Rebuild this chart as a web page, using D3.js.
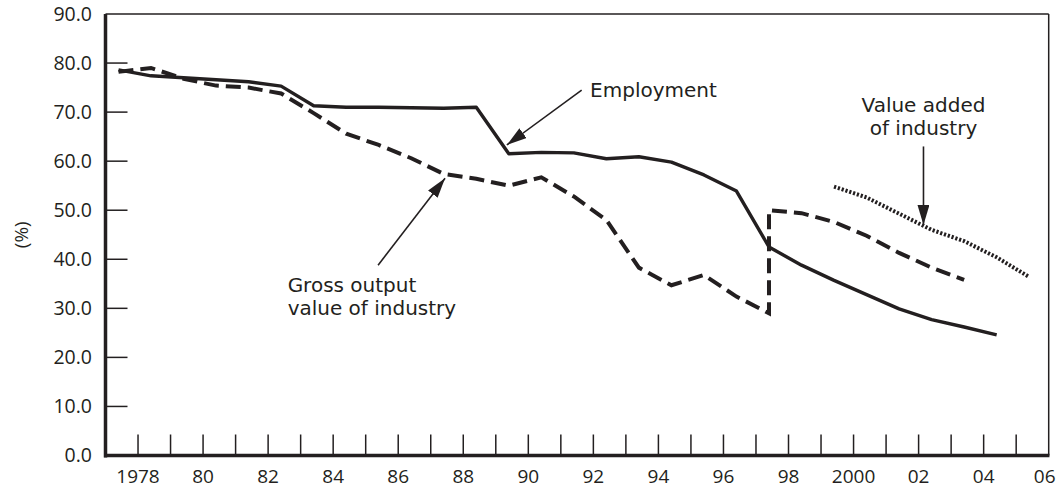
<!DOCTYPE html>
<html>
<head>
<meta charset="utf-8">
<script src="https://cdn.jsdelivr.net/npm/d3@7"></script>
<style>
  body { margin: 0; background: #fff; }
  svg text { font-family: "Open Sans", "Noto Sans", sans-serif; fill: #231f20; }
  svg text.note { font-family: "DejaVu Sans", "Open Sans", sans-serif; }
</style>
</head>
<body>
<svg id="chart" width="1060" height="489"></svg>
<script>
// values, in percent
var employmentYears = d3.range(1977, 2005);
var employment = [78.6, 77.4, 77.0, 76.6, 76.2, 75.3, 71.3, 71.0, 71.0, 70.9, 70.8, 71.0, 61.5, 61.8,
  61.7, 60.5, 60.9, 59.8, 57.2, 53.9, 42.5, 38.8, 35.7, 32.8, 29.9, 27.7, 26.2, 24.6];

var grossOldYears = d3.range(1977, 1998);
var grossOld = [78.2, 79.0, 76.8, 75.4, 75.0, 73.8, 69.8, 65.6, 63.3, 60.6, 57.4, 56.4, 55.0, 56.7,
  52.8, 48.0, 38.3, 34.7, 36.8, 32.4, 29.0];
var grossNewYears = d3.range(1997, 2004);
var grossNew = [50.0, 49.4, 47.6, 44.8, 41.3, 38.3, 35.8];

var valueAddedYears = d3.range(1999, 2006);
var valueAdded = [54.8, 52.6, 49.3, 46.0, 43.7, 40.4, 36.4];

var yTicks = [10, 20, 30, 40, 50, 60, 70, 80];
var yLabels = [0, 10, 20, 30, 40, 50, 60, 70, 80, 90];
var xTickYears = d3.range(1978, 2006);
var xLabelYears = d3.range(1978, 2007, 2);

var svg = d3.select('#chart');
var ink = '#231f20';
var x = d3.scaleLinear().domain([1977, 2006]).range([105.5, 1048.7]);
var y = d3.scaleLinear().domain([0, 90]).range([455.5, 14]);
var pointShift = 0.4; // points sit a bit right of the year tick

function yearLabel(yr) {
  if (yr === 1978 || yr === 2000) return String(yr);
  return String(yr).slice(2);
}

// frame
svg.append('line').attr('x1', x(1977)).attr('x2', x(2006)).attr('y1', y(90)).attr('y2', y(90))
  .attr('stroke', ink).attr('stroke-width', 1.5);
svg.append('line').attr('x1', x(2006)).attr('x2', x(2006)).attr('y1', y(90)).attr('y2', y(0))
  .attr('stroke', ink).attr('stroke-width', 1.5);

// y axis ticks point inward
svg.selectAll('.ytick').data(yTicks).enter().append('line')
  .attr('class', 'ytick')
  .attr('x1', x(1977)).attr('x2', x(1977) + 22)
  .attr('y1', function (d) { return y(d); }).attr('y2', function (d) { return y(d); })
  .attr('stroke', ink).attr('stroke-width', 1.5);
svg.selectAll('.ylab').data(yLabels).enter().append('text')
  .attr('class', 'ylab')
  .attr('x', 92).attr('y', function (d) { return y(d); })
  .attr('dy', '0.35em').attr('text-anchor', 'end')
  .style('font-size', '19.5px')
  .text(function (d) { return d.toFixed(1); });

// x axis ticks point up
svg.selectAll('.xtick').data(xTickYears).enter().append('line')
  .attr('class', 'xtick')
  .attr('x1', function (d) { return x(d); }).attr('x2', function (d) { return x(d); })
  .attr('y1', y(0)).attr('y2', y(0) - 21)
  .attr('stroke', ink).attr('stroke-width', 1.5);
svg.selectAll('.xlab').data(xLabelYears).enter().append('text')
  .attr('class', 'xlab')
  .attr('x', function (d) { return d === 2006 ? x(d) - 4 : x(d); }).attr('y', 482.5)
  .attr('text-anchor', 'middle')
  .style('font-size', '19px')
  .text(yearLabel);

// main axes, heavier
svg.append('line').attr('x1', x(1977)).attr('x2', x(1977)).attr('y1', y(90)).attr('y2', y(0) + 2)
  .attr('stroke', ink).attr('stroke-width', 3.5);
svg.append('line').attr('x1', x(1977) - 1.5).attr('x2', x(2006) + 0.75).attr('y1', y(0)).attr('y2', y(0))
  .attr('stroke', ink).attr('stroke-width', 3.5);

svg.append('text')
  .attr('transform', 'translate(28,' + y(45) + ') rotate(-90)')
  .attr('text-anchor', 'middle')
  .style('font-size', '19px')
  .text('(%)');

// series
var line = d3.line()
  .x(function (d) { return x(d.year + pointShift); })
  .y(function (d) { return y(d.value); });

function pairs(years, values) {
  return years.map(function (yr, i) { return {year: yr, value: values[i]}; });
}

svg.append('path')
  .datum(pairs(employmentYears, employment))
  .attr('d', line).attr('fill', 'none')
  .attr('stroke', ink).attr('stroke-width', 3.4).attr('stroke-linejoin', 'round');

svg.append('path')
  .datum(pairs(grossOldYears, grossOld).concat(pairs(grossNewYears, grossNew)))
  .attr('d', line).attr('fill', 'none')
  .attr('stroke', ink).attr('stroke-width', 4).attr('stroke-dasharray', '15,7');

svg.append('path')
  .datum(pairs(valueAddedYears, valueAdded))
  .attr('d', line).attr('fill', 'none')
  .attr('stroke', ink).attr('stroke-width', 4).attr('stroke-dasharray', '2.2,1.8');

// annotations, placed in data space
svg.append('defs').append('marker')
  .attr('id', 'head').attr('viewBox', '0 0 20 12')
  .attr('refX', 20).attr('refY', 6)
  .attr('markerWidth', 20).attr('markerHeight', 12)
  .attr('markerUnits', 'userSpaceOnUse').attr('orient', 'auto')
  .append('path').attr('d', 'M0,0L20,6L0,12Z').attr('fill', ink);

var arrows = [
  {from: [1991.64, 74.5], to: [1989.34, 63.3]},
  {from: [2002.15, 63.0], to: [2002.15, 47.0]},
  {from: [1985.38, 38.8], to: [1987.44, 56.5]}
];
svg.selectAll('.arrow').data(arrows).enter().append('line')
  .attr('class', 'arrow')
  .attr('x1', function (d) { return x(d.from[0]); }).attr('y1', function (d) { return y(d.from[1]); })
  .attr('x2', function (d) { return x(d.to[0]); }).attr('y2', function (d) { return y(d.to[1]); })
  .attr('stroke', ink).attr('stroke-width', 1.6)
  .attr('marker-end', 'url(#head)');

// each note is one text, lines as tspans
var notes = [
  {at: [1991.9, 73.1], anchor: 'start', lines: ['Employment']},
  {at: [2002.15, 70.1], anchor: 'middle', lines: ['Value added', 'of industry']},
  {at: [1982.6, 33.4], anchor: 'start', lines: ['Gross output', 'value of industry']}
];
svg.selectAll('.note').data(notes).enter().append('text')
  .attr('class', 'note')
  .attr('y', function (d) { return y(d.at[1]); })
  .attr('text-anchor', function (d) { return d.anchor; })
  .style('font-size', '20px')
  .each(function (d) {
    d3.select(this).selectAll('tspan').data(d.lines).enter().append('tspan')
      .attr('x', x(d.at[0]))
      .attr('dy', function (t, i) { return i === 0 ? 0 : 23.5; })
      .text(function (t) { return t; });
  });
</script>
</body>
</html>
